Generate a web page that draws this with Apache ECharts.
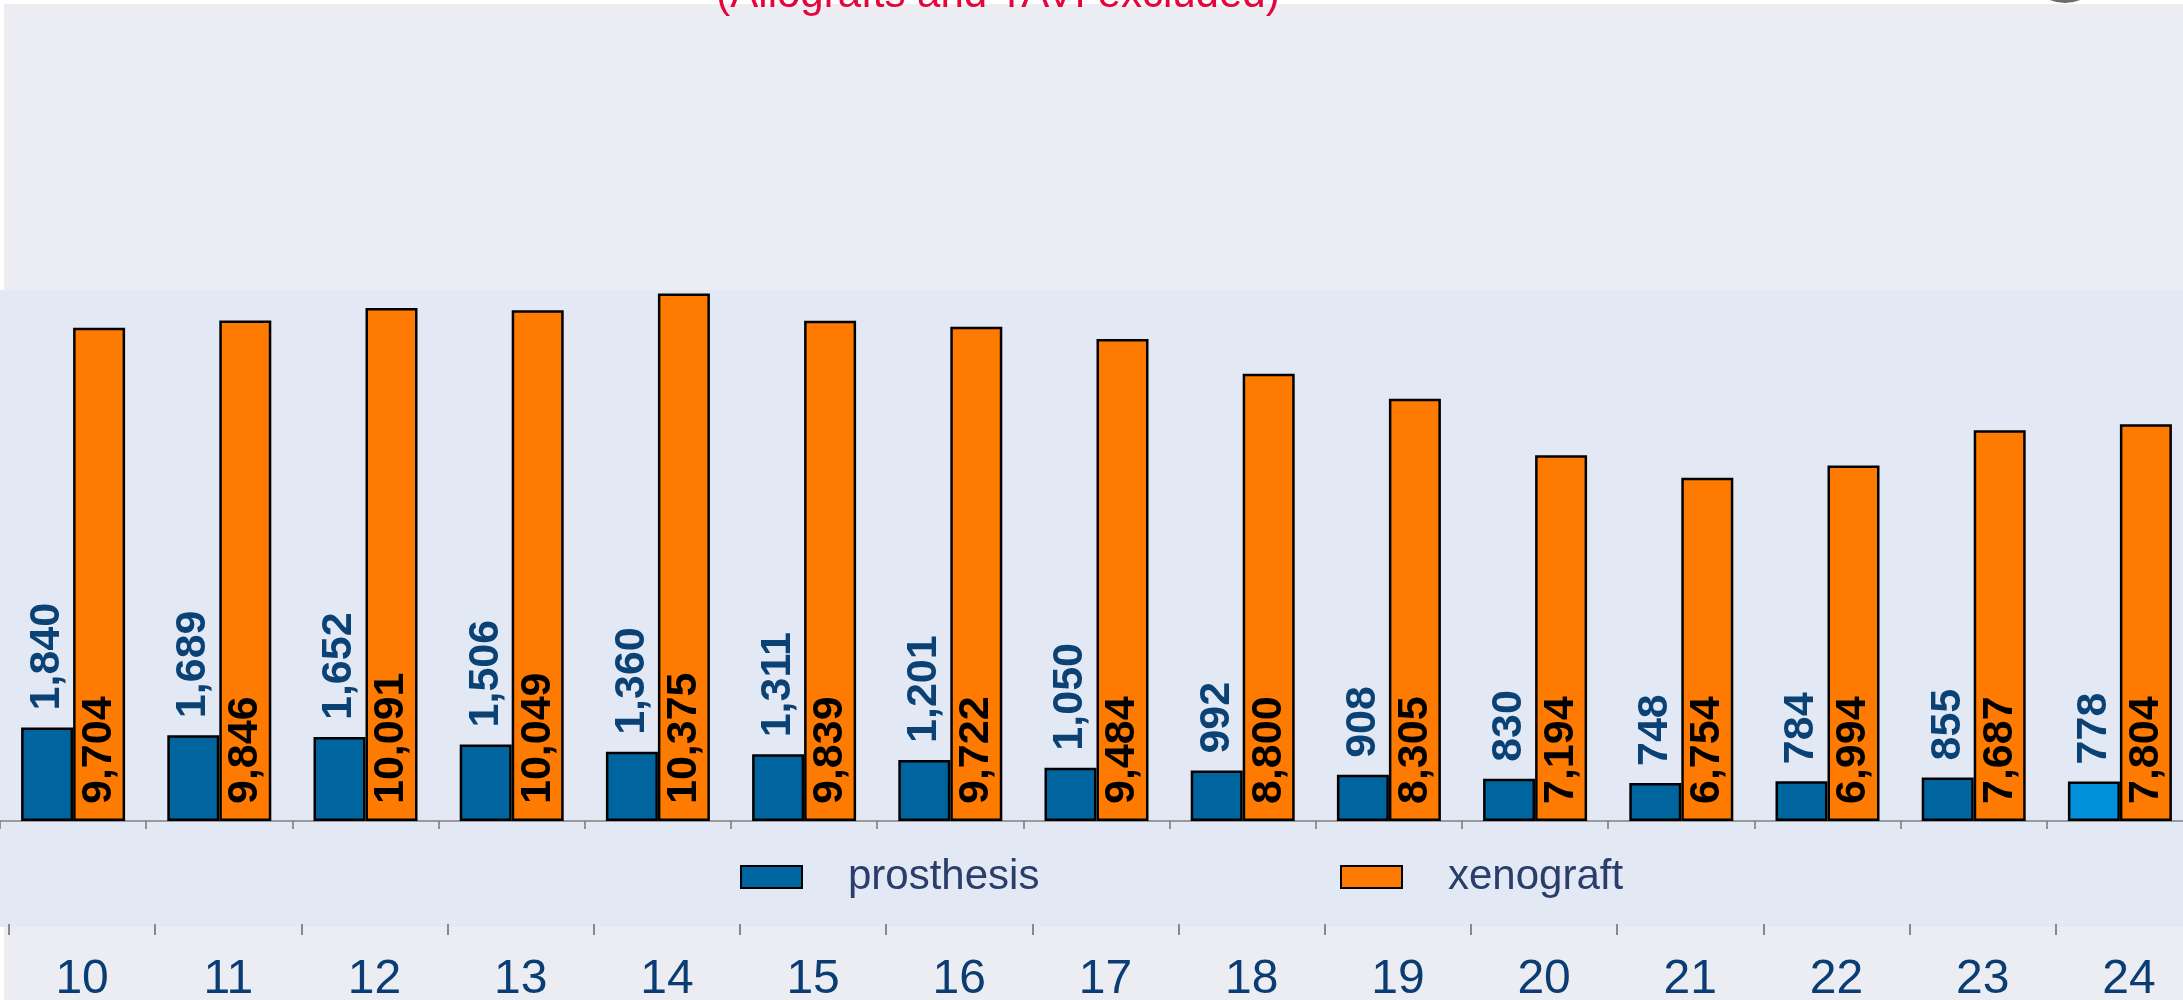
<!DOCTYPE html>
<html>
<head>
<meta charset="utf-8">
<title>prosthesis / xenograft</title>
<script src="https://cdn.jsdelivr.net/npm/echarts@6/dist/echarts.min.js"></script>
<style>
  html, body { margin: 0; padding: 0; background: #ffffff; }
  #chart { width: 2183px; height: 1000px; }
</style>
</head>
<body>
<div id="chart"></div>
<script>
// data
const years = ['10', '11', '12', '13', '14', '15', '16', '17', '18', '19', '20', '21', '22', '23', '24']
const prosthesis = [1840, 1689, 1652, 1506, 1360, 1311, 1201, 1050, 992, 908, 830, 748, 784, 855, 778]
const xenograft = [9704, 9846, 10091, 10049, 10375, 9839, 9722, 9484, 8800, 8305, 7194, 6754, 6994, 7687, 7804]
const highlightIndex = 14 // last prosthesis bar is lighter blue

const FONT = '"Liberation Sans", Arial, sans-serif'
const fmt = p => Number(p.value).toLocaleString('en-US')

const chart = echarts.init(document.getElementById('chart'))

const option = {
  animation: false,
  backgroundColor: '#ffffff',
  textStyle: { fontFamily: FONT },
  graphic: [
    // upper panel, plot band, lower panel
    { type: 'rect', z: -10, shape: { x: 4, y: 4, width: 2179, height: 286 }, style: { fill: '#ECEDF3' } },
    { type: 'rect', z: -10, shape: { x: 0, y: 290, width: 2183, height: 637 }, style: { fill: '#E3E9F4' } },
    { type: 'rect', z: -10, shape: { x: 4, y: 927, width: 2179, height: 73 }, style: { fill: '#ECEDF3' } },
    // subtitle, mostly cut off at the top
    {
      type: 'text', z: 100, x: 998, y: 16,
      style: {
        text: '(Allografts and TAVI excluded)', fill: '#E5053A',
        font: '42px ' + FONT, align: 'center', verticalAlign: 'bottom'
      }
    },
    // sliver of a logo in the top right corner
    { type: 'circle', z: 100, shape: { cx: 2065, cy: -37, r: 40 }, style: { fill: '#6b6b6b' } }
  ],
  legend: [
    {
      left: 735, top: 851, icon: 'rect', itemWidth: 61, itemHeight: 22,
      data: ['prosthesis'],
      textStyle: { fontSize: 42, color: '#2B3D6B', fontFamily: FONT, padding: [0, 0, 0, 41] }
    },
    {
      left: 1335, top: 851, icon: 'rect', itemWidth: 61, itemHeight: 22,
      data: ['xenograft'],
      textStyle: { fontSize: 42, color: '#2B3D6B', fontFamily: FONT, padding: [0, 0, 0, 41] }
    }
  ],
  grid: [
    // bars
    { left: 0, width: 2193, top: 211, bottom: 179, outerBoundsMode: 'none' },
    // year labels underneath
    { left: 9, width: 2193, top: 900, height: 24, outerBoundsMode: 'none' }
  ],
  xAxis: [
    {
      type: 'category', gridIndex: 0, data: years,
      axisLine: { show: true, lineStyle: { color: '#7f7f7f', width: 1.5 } },
      axisTick: { show: true, interval: 0, length: 8, lineStyle: { color: '#777777', width: 1.5 } },
      axisLabel: { show: false }
    },
    {
      type: 'category', gridIndex: 1, data: years, position: 'bottom',
      axisLine: { show: true, lineStyle: { color: '#888888', opacity: 0 } },
      axisTick: { show: true, interval: 0, length: 11, lineStyle: { color: '#888888', width: 2, opacity: 1 } },
      axisLabel: { fontSize: 48, color: '#0A3D73', margin: 32, fontFamily: FONT }
    }
  ],
  yAxis: [
    { type: 'value', gridIndex: 0, min: 0, max: 12000, show: false },
    { type: 'value', gridIndex: 1, show: false }
  ],
  series: [
    {
      name: 'prosthesis', type: 'bar', xAxisIndex: 0, yAxisIndex: 0,
      barWidth: 52, barGap: '0%',
      itemStyle: { color: '#00649F', borderColor: '#000000', borderWidth: 2.5 },
      label: {
        show: true, position: 'top', distance: 17, rotate: 90,
        align: 'left', verticalAlign: 'middle',
        fontSize: 43, fontWeight: 'bold', color: '#0B4275', fontFamily: FONT,
        formatter: fmt
      },
      data: prosthesis.map((v, i) => i === highlightIndex
        ? { value: v, itemStyle: { color: '#0090DC' } }
        : v)
    },
    {
      name: 'xenograft', type: 'bar', xAxisIndex: 0, yAxisIndex: 0,
      barWidth: 52, barGap: '0%',
      itemStyle: { color: '#FF7A00', borderColor: '#000000', borderWidth: 2.5 },
      label: {
        show: true, position: 'insideBottom', distance: 17, rotate: 90,
        align: 'left', verticalAlign: 'middle',
        fontSize: 43, fontWeight: 'bold', color: '#000000', fontFamily: FONT,
        formatter: fmt
      },
      data: xenograft
    }
  ]
}

chart.setOption(option)
</script>
</body>
</html>
